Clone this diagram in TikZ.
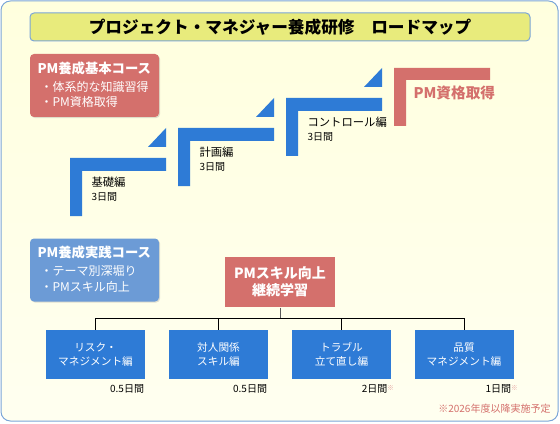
\documentclass[tikz,border=0pt]{standalone}
\usepackage{fontspec}
\setmainfont{Noto Sans CJK JP}
\usetikzlibrary{shadows}

\definecolor{rmred}{RGB}{212,112,108}
\definecolor{rmblue}{RGB}{46,123,214}
\definecolor{rmlblue}{RGB}{108,155,214}
\definecolor{rmframe}{RGB}{122,165,216}
\definecolor{rmbgtop}{RGB}{255,255,222}
\definecolor{rmbgbot}{RGB}{255,255,240}
\definecolor{rmtitle}{RGB}{232,235,124}
\definecolor{rmline}{RGB}{90,90,90}

\tikzset{every picture/.style={line width=0.75pt}}
\tikzset{
  coursebox/.style={rounded corners=3pt, minimum width=96.75pt, minimum height=47.25pt,
    drop shadow={opacity=0.25, shadow xshift=0.8pt, shadow yshift=-0.8pt}},
  coursehead/.style={anchor=west, inner sep=0pt, text=white, font=\bfseries\fontsize{10}{12}\selectfont},
  courseitem/.style={anchor=west, inner sep=0pt, text=white, font=\fontsize{9}{10}\selectfont},
  unitbox/.style={fill=rmblue, minimum width=74.25pt, minimum height=36.75pt, align=center,
    text=white, font=\fontsize{8}{11}\selectfont},
  steplabel/.style={anchor=west, inner sep=0pt, font=\fontsize{8.5}{10}\selectfont},
  daylabel/.style={anchor=west, inner sep=0pt, font=\fontsize{7.5}{9}\selectfont},
  dayright/.style={anchor=north east, inner sep=0.75pt, font=\fontsize{7.5}{9}\selectfont},
}
\newcommand{\rmmark}{\raisebox{0.5ex}{\textcolor{rmred!70}{\fontsize{5}{6}\selectfont ※}}}

\begin{document}
\begin{tikzpicture}[x=0.75pt,y=0.75pt,yscale=-1,xscale=1]
\useasboundingbox (0,0) rectangle (560,424);

%Rounded Rect frame
\draw [color=rmframe, top color=rmbgtop, bottom color=rmbgbot, rounded corners=7pt] (1,1) rectangle (558,421);

%Title bar
\node (title) [draw=rmframe, fill=rmtitle, rounded corners=3pt, minimum width=375pt, minimum height=21pt,
  font=\bfseries\fontsize{12.5}{14}\selectfont] at (280,27) {プロジェクト・マネジャー養成研修　ロードマップ};

%Course boxes
\node (basic) [coursebox, fill=rmred] at (94.5,85.5) {};
\node (basichead) [coursehead] at (37,68) {PM養成基本コース};
\node (basicitema) [courseitem] at (40,87) {・体系的な知識習得};
\node (basicitemb) [courseitem] at (40,102) {・PM資格取得};

\node (practice) [coursebox, fill=rmlblue] at (94.5,270) {};
\node (practicehead) [coursehead] at (37,252) {PM養成実践コース};
\node (practiceitema) [courseitem] at (40,271) {・テーマ別深堀り};
\node (practiceitemb) [courseitem] at (40,287) {・PMスキル向上};

%Staircase
\foreach \i/\name in {0/基礎編, 1/計画編, 2/コントロール編} {
  \pgfmathsetmacro{\sx}{70+108*\i}
  \pgfmathsetmacro{\sy}{158-30*\i}
  \fill [rmblue] (\sx,\sy) -- ++(96,0) -- ++(0,13) -- ++(-84,0) -- ++(0,45) -- ++(-12,0) -- cycle;
  \fill [rmblue] (\sx+78,\sy-11) -- (\sx+96,\sy-11) -- (\sx+96,\sy-30) -- cycle;
  \node (step\i) [steplabel] at (\sx+21,\sy+24) {\name};
  \node (days\i) [daylabel] at (\sx+21,\sy+39) {3日間};
}
\fill [rmred] (394,68) -- ++(96,0) -- ++(0,12) -- ++(-84,0) -- ++(0,46) -- ++(-12,0) -- cycle;
\node (goal) [anchor=west, inner sep=0pt, text=rmred, font=\bfseries\fontsize{11}{13}\selectfont] at (413,93) {PM資格取得};

%Skill box and units
\node (skill) [fill=rmred, minimum width=82.5pt, minimum height=37.5pt, align=center, text=white,
  font=\bfseries\fontsize{10.5}{13}\selectfont] at (280,282) {PMスキル向上\\継続学習};
\node (risk) [unitbox] at (95.5,354.5) {リスク・\\マネジメント編};
\node (human) [unitbox] at (218.5,354.5) {対人関係\\スキル編};
\node (trouble) [unitbox] at (341.5,354.5) {トラブル\\立て直し編};
\node (quality) [unitbox] at (464,354.5) {品質\\マネジメント編};

\coordinate (bus) at (280,318);
\draw [rmline] (skill) -- (bus);
\draw (bus) -| (risk);
\draw (bus) -| (human);
\draw (bus) -| (trouble);
\draw (bus) -| (quality);

% Text Node
\node (riskdays) [dayright] at ([yshift=3pt]risk.south east) {0.5日間};
\node (humandays) [dayright] at ([yshift=3pt]human.south east) {0.5日間};
\node (troubledays) [dayright] at ([xshift=3pt,yshift=3pt]trouble.south east) {2日間\rmmark};
\node (qualitydays) [dayright] at ([xshift=4pt,yshift=3pt]quality.south east) {1日間\rmmark};
\node (note) [anchor=east, inner sep=0pt, text=rmred, font=\fontsize{7.5}{9}\selectfont] at (551,409) {※2026年度以降実施予定};

\end{tikzpicture}
\end{document}
